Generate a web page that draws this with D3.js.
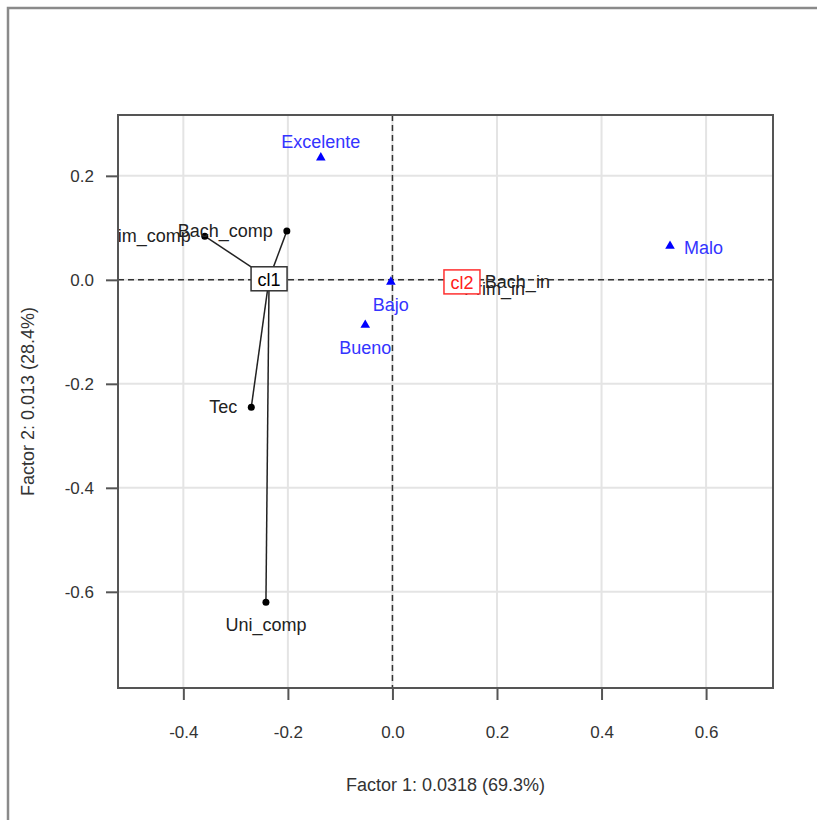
<!DOCTYPE html>
<html>
<head>
<meta charset="utf-8">
<script src="https://cdn.jsdelivr.net/npm/d3@7"></script>
<style>
	body { margin: 0; background: #fff; }
	text { font-family: "Liberation Sans", Arial, sans-serif; }
</style>
</head>
<body>
<div class="chart"></div>
<script>
const WIDTH = 817;
const HEIGHT = 820;
const PLOT = {left: 118, right: 773, top: 115, bottom: 688};

// row categories (black) and their cluster
var rowNames = ["Prim_comp", "Bach_comp", "Tec", "Uni_comp", "Prim_in", "Bach_in"];
var rowX = [-0.359, -0.202, -0.270, -0.242, 0.110, 0.150];
var rowY = [0.084, 0.094, -0.245, -0.620, -0.014, 0.000];
var rowCluster = ["cl1", "cl1", "cl1", "cl1", "cl2", "cl2"];
var rowPos = ["left", "left", "left", "below", "right", "right"];

// cluster centres
var clusterNames = ["cl1", "cl2"];
var clusterX = [-0.236, 0.133];
var clusterY = [0.002, -0.004];

// column categories (blue)
var colNames = ["Excelente", "Bueno", "Bajo", "Malo"];
var colX = [-0.137, -0.052, -0.003, 0.531];
var colY = [0.235, -0.087, -0.004, 0.065];
var colPos = ["above", "below", "below", "right"];

var xTicks = [-0.4, -0.2, 0.0, 0.2, 0.4, 0.6];
var yTicks = [0.2, 0.0, -0.2, -0.4, -0.6];

var xTitle = "Factor 1: 0.0318 (69.3%)";
var yTitle = "Factor 2: 0.013 (28.4%)";

var translate = function(x, y){
	return "translate(" + x + "," + y + ")";
};

var _x = d3.scaleLinear().domain([-0.525, 0.728]).range([PLOT.left, PLOT.right]);
var _y = d3.scaleLinear().domain([0.317, -0.785]).range([PLOT.top, PLOT.bottom]);

var labelAttrs = function(sel, pos, px, py){
	var dx = 0, dy = 0, anchor = "middle";
	if (pos == "left") { dx = -14; dy = 6; anchor = "end"; }
	if (pos == "right") { dx = 14; dy = 8; anchor = "start"; }
	if (pos == "above") { dx = 0; dy = -10; anchor = "middle"; }
	if (pos == "below") { dx = 0; dy = 29; anchor = "middle"; }
	sel.attr("x", px + dx).attr("y", py + dy).attr("text-anchor", anchor);
};

var svg = d3.select(".chart").append("svg")
	.attr("width", WIDTH)
	.attr("height", HEIGHT);

// window frame
svg.append("path")
	.attr("d", "M8,820 L8,8 L817,8")
	.attr("fill", "none")
	.attr("stroke", "#8a8a8a")
	.attr("stroke-width", 2.5);

svg.append("defs")
	.append("clipPath")
	.attr("id", "clip")
	.append("rect")
	.attr("x", PLOT.left)
	.attr("y", PLOT.top)
	.attr("width", PLOT.right - PLOT.left)
	.attr("height", PLOT.bottom - PLOT.top);

// grid
var grid = svg.append("g").attr("class", "grid");
grid.selectAll(".gx").data(xTicks).enter().append("line")
	.attr("x1", d => _x(d)).attr("x2", d => _x(d))
	.attr("y1", PLOT.top).attr("y2", PLOT.bottom)
	.attr("stroke", "#e4e4e4").attr("stroke-width", 2);
grid.selectAll(".gy").data(yTicks).enter().append("line")
	.attr("x1", PLOT.left).attr("x2", PLOT.right)
	.attr("y1", d => _y(d)).attr("y2", d => _y(d))
	.attr("stroke", "#e4e4e4").attr("stroke-width", 2);

// axes
var xAxis = d3.axisBottom(_x).tickValues(xTicks).tickFormat(d3.format(".1f")).tickSize(12).tickPadding(26);
var yAxis = d3.axisLeft(_y).tickValues(yTicks).tickFormat(d3.format(".1f")).tickSize(12).tickPadding(12);

var gx = svg.append("g")
	.attr("transform", translate(0, PLOT.bottom))
	.call(xAxis);
var gy = svg.append("g")
	.attr("transform", translate(PLOT.left, 0))
	.call(yAxis);

[gx, gy].forEach(function(g){
	g.select(".domain").remove();
	g.selectAll(".tick line").attr("stroke", "#555").attr("stroke-width", 2);
	g.selectAll(".tick text")
		.attr("fill", "#333")
		.style("font-size", "17px")
		.style("font-family", "'Liberation Sans', Arial, sans-serif")
		.text(function(d){ return d3.format(".1f")(d).replace("−", "-"); });
});

// dashed origin lines
svg.append("line")
	.attr("x1", PLOT.left).attr("x2", PLOT.right)
	.attr("y1", _y(0)).attr("y2", _y(0))
	.attr("stroke", "#333").attr("stroke-width", 1.5)
	.attr("stroke-dasharray", "6,4");
svg.append("line")
	.attr("x1", _x(0)).attr("x2", _x(0))
	.attr("y1", PLOT.top).attr("y2", PLOT.bottom)
	.attr("stroke", "#333").attr("stroke-width", 1.5)
	.attr("stroke-dasharray", "6,4");

var inner = svg.append("g").attr("clip-path", "url(#clip)");

// segments from cluster centre to rows
inner.selectAll(".seg").data(rowNames).enter().append("line")
	.attr("x1", function(d, i){ return _x(clusterX[clusterNames.indexOf(rowCluster[i])]); })
	.attr("y1", function(d, i){ return _y(clusterY[clusterNames.indexOf(rowCluster[i])]); })
	.attr("x2", function(d, i){ return _x(rowX[i]); })
	.attr("y2", function(d, i){ return _y(rowY[i]); })
	.attr("stroke", "#222").attr("stroke-width", 1.5);

// row points
inner.selectAll(".rowpt").data(rowNames).enter().append("circle")
	.attr("cx", function(d, i){ return _x(rowX[i]); })
	.attr("cy", function(d, i){ return _y(rowY[i]); })
	.attr("r", 3.5)
	.attr("fill", "#000");

// column points (triangles)
var tri = d3.symbol().type(d3.symbolTriangle).size(40);
inner.selectAll(".colpt").data(colNames).enter().append("path")
	.attr("d", tri)
	.attr("transform", function(d, i){ return translate(_x(colX[i]), _y(colY[i])); })
	.attr("fill", "#0000ff");

// row labels
inner.selectAll(".rowlab").data(rowNames).enter().append("text")
	.each(function(d, i){ labelAttrs(d3.select(this), rowPos[i], _x(rowX[i]), _y(rowY[i])); })
	.style("font-size", "18px")
	.attr("fill", "#222")
	.text(d => d);

// column labels
inner.selectAll(".collab").data(colNames).enter().append("text")
	.each(function(d, i){ labelAttrs(d3.select(this), colPos[i], _x(colX[i]), _y(colY[i])); })
	.style("font-size", "18px")
	.attr("fill", "#3434ff")
	.text(d => d);

// cluster boxes
var clusterColor = ["#000", "#ff2020"];
var boxes = inner.selectAll(".clbox").data(clusterNames).enter().append("g")
	.attr("transform", function(d, i){ return translate(_x(clusterX[i]), _y(clusterY[i])); });
boxes.append("rect")
	.attr("x", -18).attr("y", -12)
	.attr("width", 36).attr("height", 24)
	.attr("fill", "#fff")
	.attr("stroke", function(d, i){ return i == 0 ? "#333" : "#ff3030"; })
	.attr("stroke-width", 1.5);
boxes.append("text")
	.attr("text-anchor", "middle")
	.attr("y", 7)
	.style("font-size", "18px")
	.attr("fill", function(d, i){ return clusterColor[i]; })
	.text(d => d);

// plot box
svg.append("rect")
	.attr("x", PLOT.left).attr("y", PLOT.top)
	.attr("width", PLOT.right - PLOT.left)
	.attr("height", PLOT.bottom - PLOT.top)
	.attr("fill", "none")
	.attr("stroke", "#555")
	.attr("stroke-width", 2);

// titles
svg.append("text")
	.attr("x", (PLOT.left + PLOT.right) / 2)
	.attr("y", 791)
	.attr("text-anchor", "middle")
	.style("font-size", "18px")
	.attr("fill", "#333")
	.text(xTitle);

svg.append("text")
	.attr("transform", translate(34, (PLOT.top + PLOT.bottom) / 2) + " rotate(-90)")
	.attr("text-anchor", "middle")
	.style("font-size", "18px")
	.attr("fill", "#333")
	.text(yTitle);
</script>
</body>
</html>
